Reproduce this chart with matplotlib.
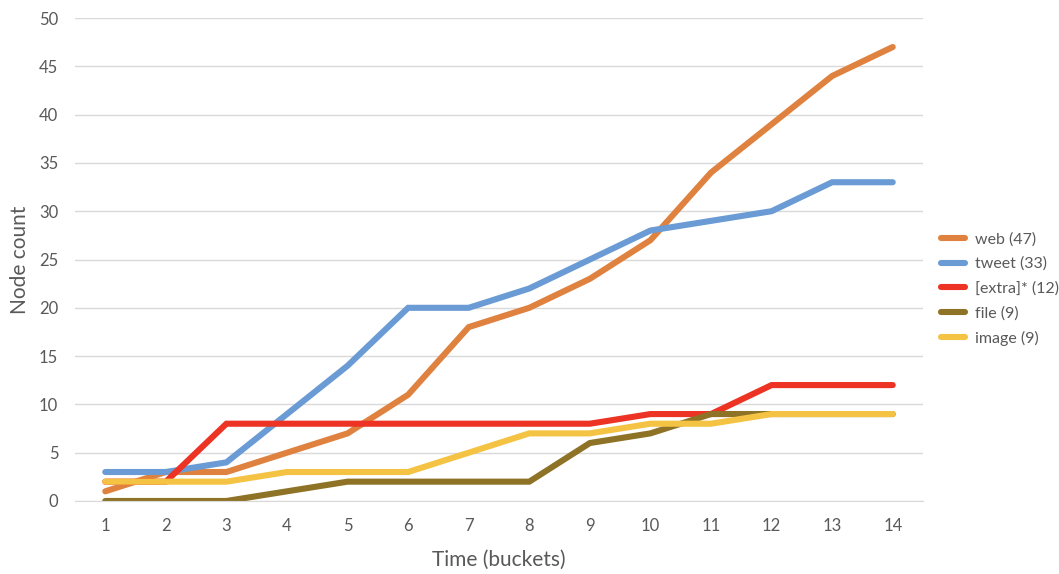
import matplotlib
matplotlib.use("Agg")
import matplotlib.pyplot as plt
import numpy as np

plt.rcParams['font.family'] = ['Lato', 'DejaVu Sans']

buckets = list(range(1, 15))
web = [1, 3, 3, 5, 7, 11, 18, 20, 23, 27, 34, 39, 44, 47]
tweet = [3, 3, 4, 9, 14, 20, 20, 22, 25, 28, 29, 30, 33, 33]
extra = [2, 2, 8, 8, 8, 8, 8, 8, 8, 9, 9, 12, 12, 12]
file_ = [0, 0, 0, 1, 2, 2, 2, 2, 6, 7, 9, 9, 9, 9]
image = [2, 2, 2, 3, 3, 3, 5, 7, 7, 8, 8, 9, 9, 9]

series = [
    ("web (47)", web, "#E0823F"),
    ("tweet (33)", tweet, "#6A9BD4"),
    ("[extra]* (12)", extra, "#EC3324"),
    ("file (9)", file_, "#8E7327"),
    ("image (9)", image, "#F4C343"),
]

fig = plt.figure(figsize=(10.59, 5.74), dpi=100)
ax = fig.add_axes([0.0708, 0.1272, 0.8008, 0.8414])

for label, vals, color in series:
    ax.plot(buckets, vals, color=color, lw=4.4, label=label,
            solid_capstyle='round', solid_joinstyle='miter')

ax.set_xlim(0.5, 14.5)
ax.set_ylim(0, 50)
ax.set_xticks(buckets)
ax.set_yticks(np.arange(0, 51, 5))
ax.grid(axis='y', color='#d9d9d9', lw=1)
ax.set_axisbelow(True)
for s in ['top', 'right', 'left']:
    ax.spines[s].set_visible(False)
ax.spines['bottom'].set_color('#d9d9d9')
ax.tick_params(length=0, labelsize=12, labelcolor='#595959')
ax.tick_params(axis='x', pad=12)
ax.tick_params(axis='y', pad=12)
ax.set_xlabel("Time (buckets)", fontsize=15, color='#595959', labelpad=12)
ax.set_ylabel("Node count", fontsize=15, color='#595959')
ax.yaxis.set_label_coords(-0.053, 0.5)

fig.legend(loc='center left', bbox_to_anchor=(0.881, 0.4965), frameon=False,
           fontsize=11.5, labelcolor='#595959', handlelength=1.5,
           handletextpad=0.6, labelspacing=0.65, borderpad=0)

fig.savefig("out.png", dpi=100)
